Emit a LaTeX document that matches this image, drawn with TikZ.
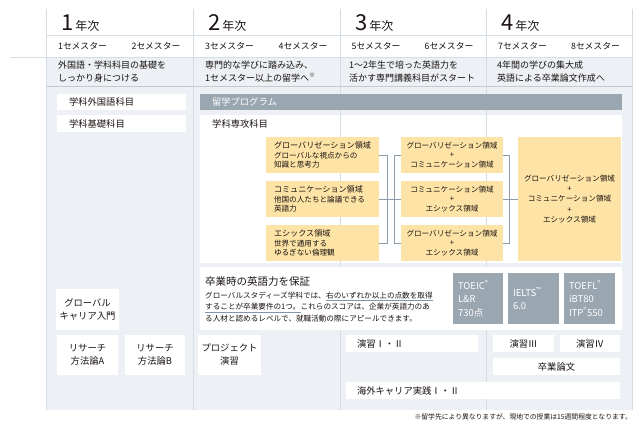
\documentclass[tikz,border=0pt]{standalone}
\usepackage{fontspec}
\setmainfont{Noto Sans CJK JP}
\definecolor{bodybg}{HTML}{EDF0F4}
\definecolor{gridc}{HTML}{D5DCE3}
\definecolor{barc}{HTML}{9AA6B0}
\definecolor{orangec}{HTML}{FDE3A6}
\definecolor{connc}{HTML}{8E9DAC}
\definecolor{ulc}{HTML}{7F95AD}
\definecolor{txtc}{HTML}{1A1311}
\tikzset{
  gline/.style={draw=gridc, line width=0.7pt},
  conn/.style={draw=connc, line width=0.7pt},
  ulline/.style={draw=ulc, line width=0.8pt},
  wbox/.style={fill=white, text=txtc, inner ysep=0pt, align=center, font=\fontsize{9.3}{13}\selectfont},
  lbox/.style={wbox, align=left, inner xsep=12pt},
  obox/.style={fill=orangec, text=txtc, inner ysep=0pt, align=center, font=\fontsize{7.6}{9.2}\selectfont},
  sbox/.style={fill=barc, text=white, inner xsep=5pt, text width=40pt, minimum height=51pt, align=left, font=\fontsize{9.5}{13.5}\selectfont},
  sem/.style={text=txtc, inner sep=0pt, font=\fontsize{8.8}{10}\selectfont},
  desc/.style={text=txtc, inner sep=0pt, anchor=west, align=left, font=\fontsize{9}{13}\selectfont},
  bodytxt/.style={text=txtc, inner sep=0pt, anchor=base west, font=\fontsize{7.6}{9}\selectfont},
}
\begin{document}
\begin{tikzpicture}[x=1pt, y=-1pt]
			\useasboundingbox (0,0) rectangle (640,430);
			\fill[bodybg] (46,57) rectangle (632,410);
			\node[fill=white, minimum width=422pt, minimum height=148pt, inner sep=0pt, anchor=north west] (senko) at (200,115) {};
			\foreach \x in {46,193,340,486,632}{
				\draw[gline] (\x,9) -- (\x,410);
			}
			\draw[gline] (46,35) -- (632,35);
			\draw[gline] (10,57) -- (632,57);
			\draw[gline, draw=gridc!80!gray] (46,86) -- (632,86);
			\foreach \i\x in {1/46,2/193,3/340,4/486}{
				\node[text=txtc, inner sep=0pt, anchor=base west, font=\fontsize{12}{12}\selectfont] (year\i) at (\x+15,31) {{\fontsize{22}{22}\selectfont\i}\,年次};
			}
			\foreach \i\x in {1/82.5,2/156,3/229.5,4/303,5/376,6/449,7/522.5,8/595.5}{
				\node[sem] (sem\i) at (\x,46) {{\i}セメスター};
			}
			\node[desc] (desc1) at (58,71.5) {外国語・学科科目の基礎を\\しっかり身につける};
			\node[desc] (desc2) at (205,71.5) {専門的な学びに踏み込み、\\1セメスター以上の留学へ\textsuperscript{※}};
			\node[desc] (desc3) at (349,71.5) {1～2年生で培った英語力を\\活かす専門講義科目がスタート};
			\node[desc] (desc4) at (497,71.5) {4年間の学びの集大成\\英語による卒業論文作成へ};
			\node[lbox, text width=105pt, minimum height=16pt] (gaikoku) at (121.5,102) {学科外国語科目};
			\node[lbox, text width=105pt, minimum height=17pt] (kiso) at (121.5,123.5) {学科基礎科目};
			\node[lbox, fill=barc, text=white, text width=398pt, minimum height=16pt] (ryugaku) at (411,102) {留学プログラム};
			\node[text=txtc, inner sep=0pt, anchor=west, font=\fontsize{9.3}{13}\selectfont] (senkolbl) at (212,124) {学科専攻科目};
			\node[obox, align=left, inner xsep=8pt, text width=97pt, minimum height=36pt] (oA) at (322.5,155) {{\fontsize{8.1}{10.5}\selectfont グローバリゼーション領域}\\グローバルな視点からの\\知識と思考力};
			\node[obox, align=left, inner xsep=8pt, text width=97pt, minimum height=36pt] (oB) at (322.5,199) {{\fontsize{8.1}{10.5}\selectfont コミュニケーション領域}\\他国の人たちと論議できる\\英語力};
			\node[obox, align=left, inner xsep=8pt, text width=97pt, minimum height=36pt] (oC) at (322.5,243) {{\fontsize{8.1}{10.5}\selectfont エシックス領域}\\世界で通用する\\ゆるぎない倫理観};
			\node[obox, minimum width=102pt, minimum height=36pt] (oD) at (452,155) {グローバリゼーション領域\\+\\コミュニケーション領域};
			\node[obox, minimum width=102pt, minimum height=36pt] (oE) at (452,199) {コミュニケーション領域\\+\\エシックス領域};
			\node[obox, minimum width=102pt, minimum height=36pt] (oF) at (452,243) {グローバリゼーション領域\\+\\エシックス領域};
			\node[obox, minimum width=103pt, minimum height=124pt, font=\fontsize{7.6}{10.3}\selectfont] (oG) at (569.5,199) {グローバリゼーション領域\\+\\コミュニケーション領域\\+\\エシックス領域};
			\draw[conn] (oA.east) -- ++(8,0) |- (oC.east);
			\draw[conn] (oB.east) -- (oE.west);
			\draw[conn] (oD.west) -- ++(-6,0) |- (oF.west);
			\draw[conn] (oD.east) -- ++(6,0) |- (oF.east);
			\draw[conn] (oE.east) -- (oG.west);
			\node[fill=white, minimum width=422pt, minimum height=63pt, inner sep=0pt, anchor=north west] (hosho) at (200,267) {};
			\node[text=txtc, inner sep=0pt, anchor=base west, font=\fontsize{10.5}{12}\selectfont] (hoshottl) at (205,286) {卒業時の英語力を保証};
			\node[bodytxt] (l1a) at (205,298.2) {グローバルスタディーズ学科では、};
			\node[bodytxt] (l1b) at (l1a.base east) {右のいずれか以上の点数を取得};
			\node[bodytxt] (l2a) at (205,309.9) {することが卒業要件の1つ。};
			\node[bodytxt] (l2b) at (l2a.base east) {これらのスコアは、企業が英語力のあ};
			\node[bodytxt] (l3a) at (205,321.6) {る人材と認めるレベルで、就職活動の際にアピールできます。};
			\draw[ulline] ([yshift=-2.4pt]l1b.base west) -- ([yshift=-2.4pt]l1b.base east);
			\draw[ulline] ([yshift=-2.4pt]l2a.base west) -- ([yshift=-2.4pt]l2a.base east);
			\node[sbox] (toeic) at (478,298.5) {TOEIC\textsuperscript{®}\\L\&R\\730点};
			\node[sbox, text width=41pt] (ielts) at (533.5,298.5) {IELTS\textsuperscript{™}\\6.0};
			\node[sbox, text width=41pt] (toefl) at (589.5,298.5) {TOEFL\textsuperscript{®}\\iBT80\\ITP\textsuperscript{®}550};
			\node[wbox, minimum width=61pt, minimum height=41pt] (career) at (87.5,309.5) {グローバル\\キャリア入門};
			\node[wbox, minimum width=61pt, minimum height=40pt] (resA) at (87.5,355) {リサーチ\\方法論A};
			\node[wbox, minimum width=60pt, minimum height=40pt] (resB) at (155,355) {リサーチ\\方法論B};
			\node[wbox, minimum width=61pt, minimum height=40pt] (proj) at (229.5,355) {プロジェクト\\演習};
			\node[lbox, inner xsep=11pt, text width=110pt, minimum height=17pt] (ensyuA) at (412,343.5) {演習Ⅰ・Ⅱ};
			\node[wbox, minimum width=61pt, minimum height=17pt] (ensyuB) at (523.5,343.5) {演習Ⅲ};
			\node[wbox, minimum width=60pt, minimum height=17pt] (ensyuC) at (590,343.5) {演習Ⅳ};
			\node[wbox, minimum width=127pt, minimum height=17pt] (sotsuron) at (556.5,366.5) {卒業論文};
			\node[lbox, inner xsep=11pt, text width=252pt, minimum height=17pt] (kaigai) at (483,390.5) {海外キャリア実践Ⅰ・Ⅱ};
			\node[text=txtc, inner sep=0pt, anchor=base east, font=\fontsize{6.8}{8}\selectfont] (note) at (632,419) {※留学先により異なりますが、現地での授業は15週間程度となります。};
		\end{tikzpicture}
\end{document}
